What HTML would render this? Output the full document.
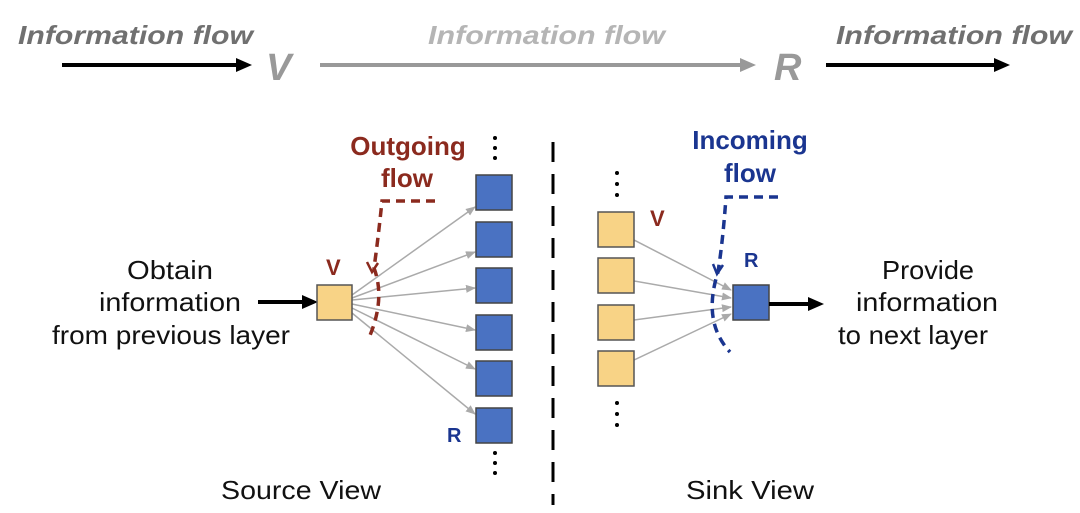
<!DOCTYPE html>
<html><head><meta charset="utf-8"><style>
html,body{margin:0;padding:0;background:#fff;}
svg{display:block;}
text{font-family:"Liberation Sans",sans-serif;}
</style></head><body>
<svg width="1080" height="513" viewBox="0 0 1080 513" xmlns="http://www.w3.org/2000/svg">
<defs>
<marker id="as" markerWidth="10" markerHeight="8" refX="9" refY="4" orient="auto" markerUnits="userSpaceOnUse"><path d="M0,0 L10,4 L0,8 Z" fill="#aaa"/></marker>
</defs>
<!-- top -->
<g font-weight="bold" font-style="italic" font-size="26">
<text x="18" y="44" fill="#707070" textLength="235" lengthAdjust="spacingAndGlyphs">Information flow</text>
<text x="428" y="44" fill="#b5b5b5" textLength="237" lengthAdjust="spacingAndGlyphs">Information flow</text>
<text x="836" y="44" fill="#707070" textLength="236" lengthAdjust="spacingAndGlyphs">Information flow</text>
</g>
<text x="266" y="80" font-size="38" font-weight="bold" font-style="italic" fill="#999">V</text>
<text x="774" y="80" font-size="38" font-weight="bold" font-style="italic" fill="#999">R</text>
<line x1="62" y1="65" x2="246" y2="65" stroke="#000" stroke-width="4"/>
<path d="M236,58 L252,65 L236,72Z" fill="#000"/>
<line x1="320" y1="65" x2="746" y2="65" stroke="#999" stroke-width="4"/>
<path d="M740,58 L756,65 L740,72Z" fill="#999"/>
<line x1="826" y1="65" x2="996" y2="65" stroke="#000" stroke-width="4"/>
<path d="M994,58 L1010,65 L994,72Z" fill="#000"/>

<g font-size="26" fill="#111" text-anchor="middle">
<text x="170" y="279" textLength="86" lengthAdjust="spacingAndGlyphs">Obtain</text>
<text x="170" y="311" textLength="142" lengthAdjust="spacingAndGlyphs">information</text>
<text x="171" y="344" textLength="238" lengthAdjust="spacingAndGlyphs">from previous layer</text>
<text x="928" y="279" textLength="92" lengthAdjust="spacingAndGlyphs">Provide</text>
<text x="927" y="311" textLength="142" lengthAdjust="spacingAndGlyphs">information</text>
<text x="913" y="344" textLength="150" lengthAdjust="spacingAndGlyphs">to next layer</text>
<text x="301" y="499" textLength="160" lengthAdjust="spacingAndGlyphs">Source View</text>
<text x="750" y="499" textLength="128" lengthAdjust="spacingAndGlyphs">Sink View</text>
</g>
<line x1="258" y1="302" x2="305" y2="302" stroke="#000" stroke-width="4"/>
<path d="M302,295 L318,302 L302,309Z" fill="#000"/>

<g stroke="#aaa" stroke-width="1.5" marker-end="url(#as)">
<line x1="352" y1="295" x2="475" y2="207"/>
<line x1="352" y1="298" x2="475" y2="252"/>
<line x1="352" y1="300" x2="475" y2="288"/>
<line x1="352" y1="304" x2="475" y2="330"/>
<line x1="352" y1="308" x2="475" y2="369"/>
<line x1="352" y1="313" x2="475" y2="414"/>
</g>
<rect x="317" y="285" width="35" height="35" fill="#f8d386" stroke="#555" stroke-width="1.5"/>
<g fill="#4a72c2" stroke="#444" stroke-width="1.5">
<rect x="476" y="175" width="36" height="35"/>
<rect x="476" y="222" width="36" height="35"/>
<rect x="476" y="268" width="36" height="35"/>
<rect x="476" y="315" width="36" height="35"/>
<rect x="476" y="361" width="36" height="35"/>
<rect x="476" y="408" width="36" height="35"/>
</g>
<g fill="#000"><circle cx="495" cy="138" r="2"/><circle cx="495" cy="148" r="2"/><circle cx="495" cy="158" r="2"/>
<circle cx="495" cy="453" r="2"/><circle cx="495" cy="463" r="2"/><circle cx="495" cy="473" r="2"/></g>
<text x="326" y="275" font-size="22" font-weight="bold" fill="#8b2a1e">V</text>
<text x="447" y="442" font-size="20" font-weight="bold" fill="#1a3590">R</text>
<text x="408" y="155" font-size="26" font-weight="bold" fill="#8b2a1e" text-anchor="middle">Outgoing</text>
<text x="407" y="187" font-size="26" font-weight="bold" fill="#8b2a1e" text-anchor="middle">flow</text>
<path d="M435,201 L382,201 Q378,240 374,268 Q386,300 368,340" fill="none" stroke="#8b2a1e" stroke-width="3.5" stroke-dasharray="9,6"/>
<path d="M367,262 L372,272 L378,263" fill="none" stroke="#8b2a1e" stroke-width="2.5"/>

<line x1="553" y1="142" x2="553" y2="505" stroke="#000" stroke-width="3" stroke-dasharray="20,12"/>

<g stroke="#aaa" stroke-width="1.5" marker-end="url(#as)">
<line x1="634" y1="240" x2="731" y2="290"/>
<line x1="634" y1="281" x2="731" y2="298"/>
<line x1="634" y1="320" x2="731" y2="307"/>
<line x1="634" y1="360" x2="731" y2="314"/>
</g>
<g fill="#f8d386" stroke="#555" stroke-width="1.5">
<rect x="598" y="212" width="36" height="35"/>
<rect x="598" y="258" width="36" height="35"/>
<rect x="598" y="305" width="36" height="35"/>
<rect x="598" y="351" width="36" height="35"/>
</g>
<rect x="733" y="285" width="36" height="35" fill="#4a72c2" stroke="#444" stroke-width="1.5"/>
<line x1="769" y1="304" x2="812" y2="304" stroke="#000" stroke-width="4"/>
<path d="M808,297 L824,304 L808,311Z" fill="#000"/>
<g fill="#000"><circle cx="617" cy="173" r="2"/><circle cx="617" cy="184" r="2"/><circle cx="617" cy="195" r="2"/>
<circle cx="617" cy="403" r="2"/><circle cx="617" cy="414" r="2"/><circle cx="617" cy="425" r="2"/></g>
<text x="650" y="226" font-size="22" font-weight="bold" fill="#8b2a1e">V</text>
<text x="744" y="267" font-size="20" font-weight="bold" fill="#1a3590">R</text>
<text x="750" y="149" font-size="26" font-weight="bold" fill="#1a3590" text-anchor="middle">Incoming</text>
<text x="750" y="182" font-size="26" font-weight="bold" fill="#1a3590" text-anchor="middle">flow</text>
<path d="M778,197 L726,197 Q723,240 718,272 Q702,322 730,352" fill="none" stroke="#1a3590" stroke-width="3.5" stroke-dasharray="9,6"/>
<path d="M713,264 L717,274 L723,265" fill="none" stroke="#1a3590" stroke-width="2.5"/>
</svg>
</body></html>
